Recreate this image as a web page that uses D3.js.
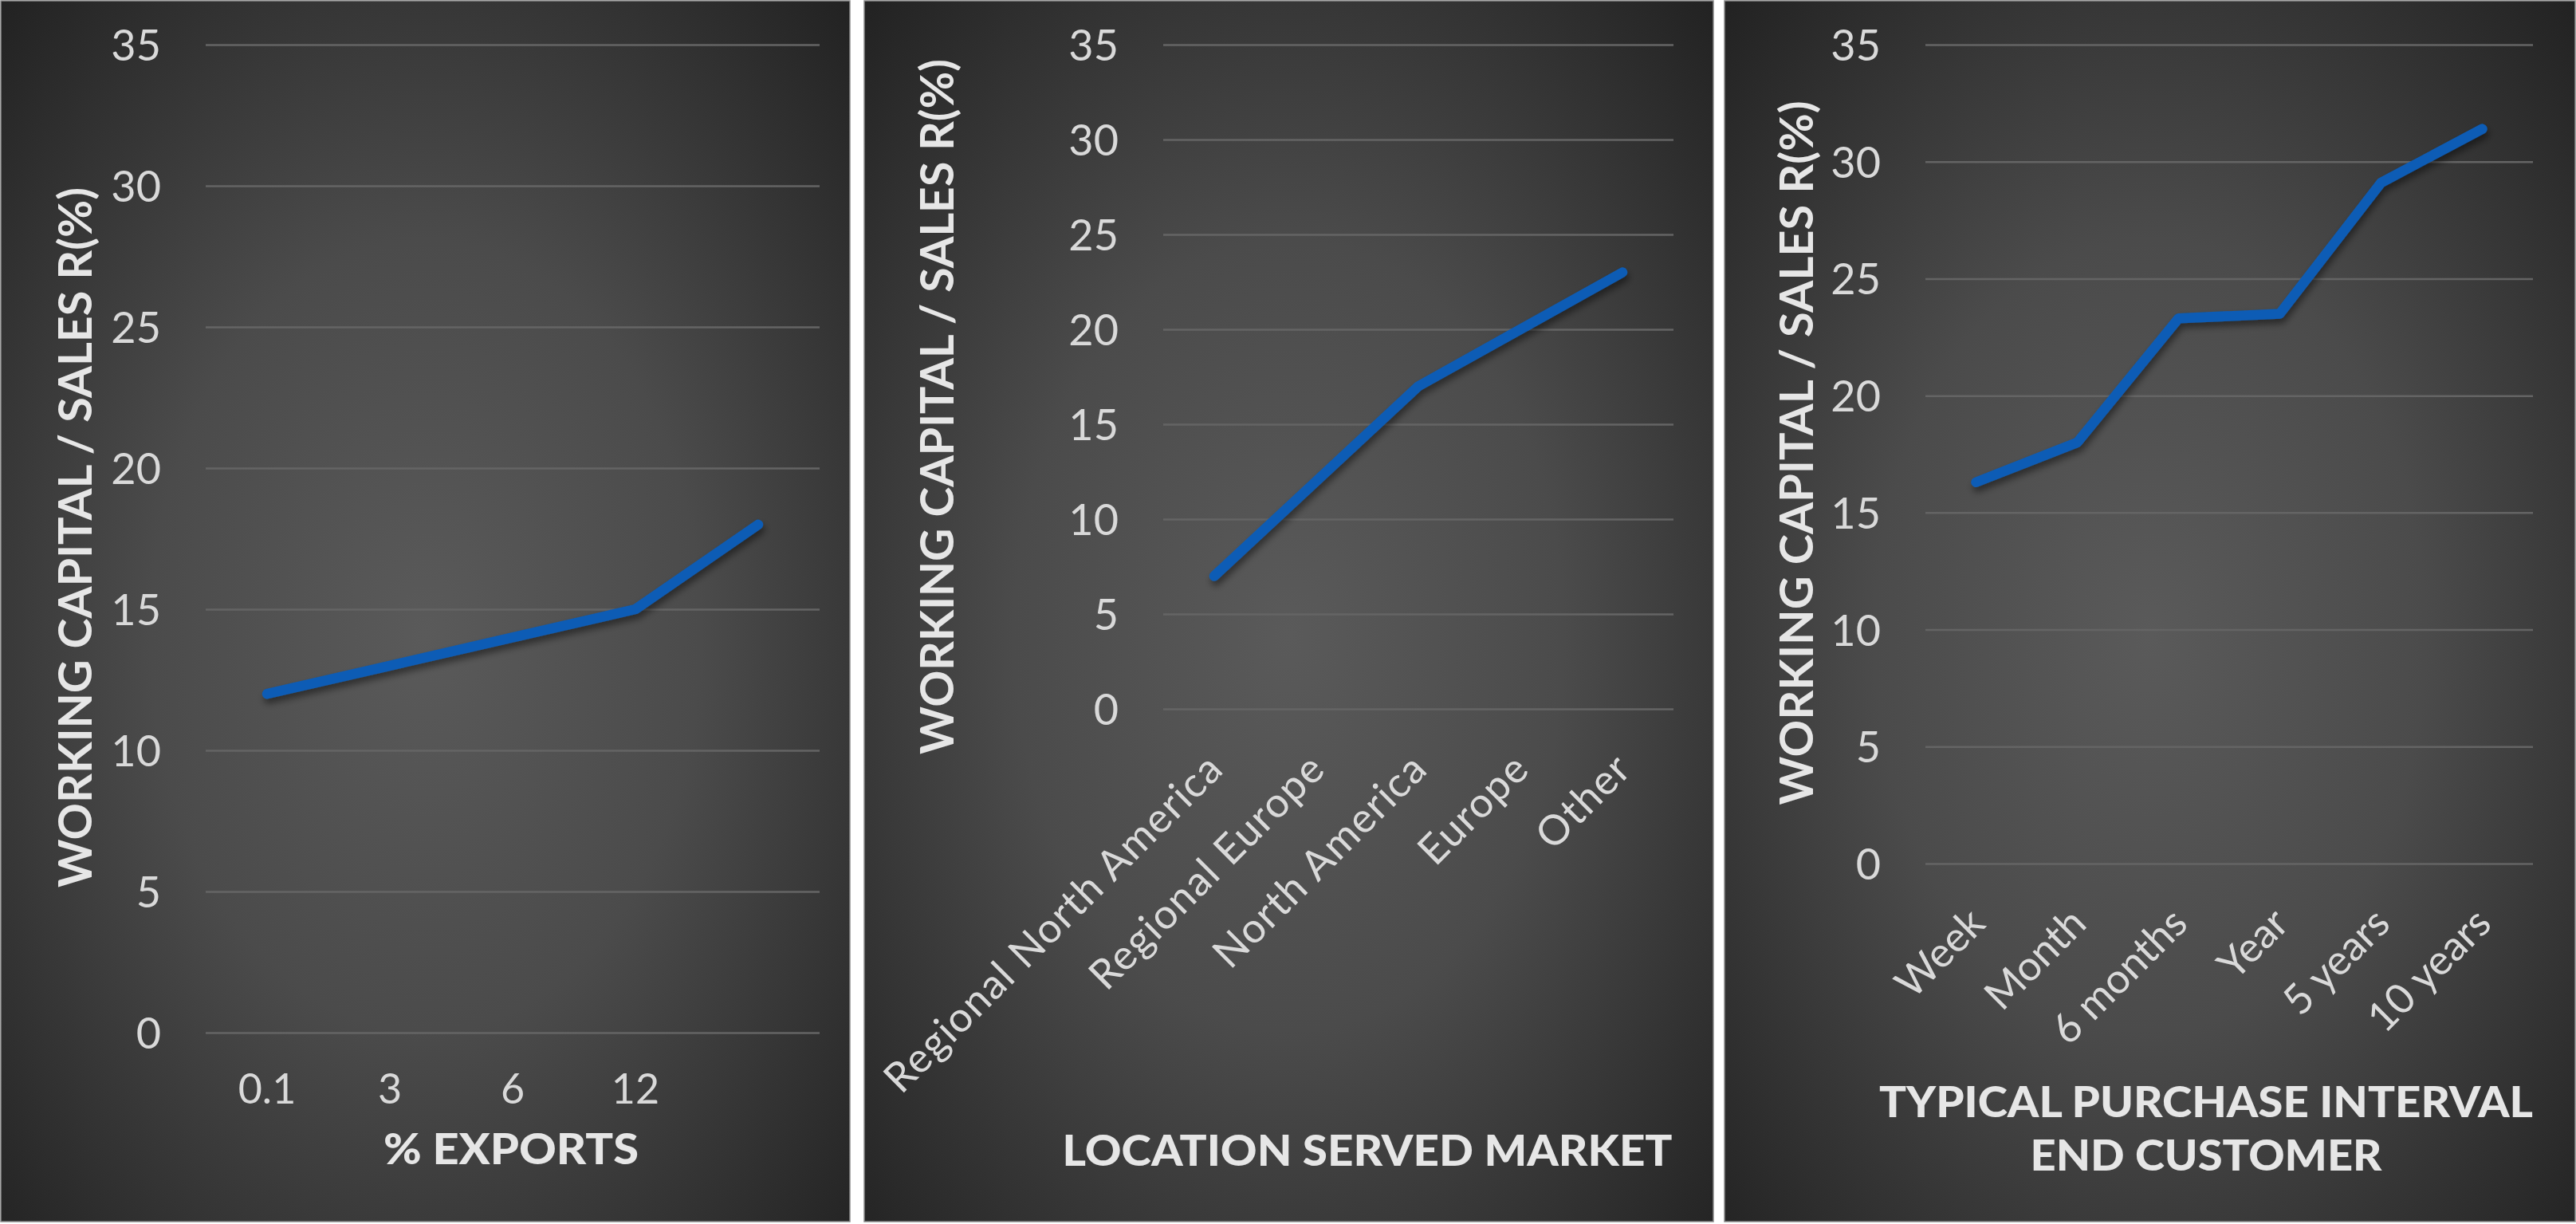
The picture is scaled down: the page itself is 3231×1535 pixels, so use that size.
<!DOCTYPE html>
<html>
<head>
<meta charset="utf-8">
<script src="https://cdn.jsdelivr.net/npm/d3@7"></script>
<style>
  body { margin: 0; background: #ffffff; }
  svg { display: block; }
</style>
</head>
<body>
<div id="chart"></div>
<script>

// chart values
const yTicks = [0, 5, 10, 15, 20, 25, 30, 35];
const yTitle = "WORKING CAPITAL / SALES R(%)";

const exportCats = ["0.1", "3", "6", "12", ""];
const exportVals = [12, 13, 14, 15, 18];

const marketCats = ["Regional North America", "Regional Europe", "North America", "Europe", "Other"];
const marketVals = [7, 12, 17, 20, 23];

const intervalCats = ["Week", "Month", "6 months", "Year", "5 years", "10 years"];
const intervalVals = [16.3, 18, 23.3, 23.5, 29.1, 31.4];

const width = 3231, height = 1535;

const svg = d3.select("#chart")
  .append("svg")
  .attr("width", width)
  .attr("height", height)
  .attr("viewBox", [0, 0, width, height]);

const defs = svg.append("defs");

// radial background, light centre to dark corners
const grad = defs.append("radialGradient")
  .attr("id", "bg")
  .attr("cx", "50%").attr("cy", "52%").attr("r", "72%");
grad.append("stop").attr("offset", "0%").attr("stop-color", "#5a5a5a");
grad.append("stop").attr("offset", "45%").attr("stop-color", "#4b4b4b");
grad.append("stop").attr("offset", "100%").attr("stop-color", "#222222");

// soft shadow under the line
const shadow = defs.append("filter")
  .attr("id", "shadow")
  .attr("x", "-10%").attr("y", "-10%").attr("width", "120%").attr("height", "130%");
shadow.append("feDropShadow")
  .attr("dx", 2).attr("dy", 6).attr("stdDeviation", 4)
  .attr("flood-color", "#000").attr("flood-opacity", 0.45);

const panels = [
  { x0: 1, x1: 1066, plot: [258, 1028, 56, 1295], cats: exportCats, vals: exportVals,
    rotate: false, spacing: 0, yTitleX: 94, yTitleY: 674, yTitleLen: 878,
    xTitle: [{ text: "% EXPORTS", x: 641, y: 1441, len: 320 }] },
  { x0: 1084, x1: 2149, plot: [1459, 2099, 56, 889], cats: marketCats, vals: marketVals,
    rotate: true, spacing: 1.5, yTitleX: 1175, yTitleY: 510, yTitleLen: 872,
    xTitle: [{ text: "LOCATION SERVED MARKET", x: 1715, y: 1443, len: 765 }] },
  { x0: 2163, x1: 3230, plot: [2415, 3177, 56, 1083], cats: intervalCats, vals: intervalVals,
    rotate: true, spacing: 0, yTitleX: 2253, yTitleY: 568, yTitleLen: 883,
    xTitle: [{ text: "TYPICAL PURCHASE INTERVAL", x: 2767, y: 1382, len: 820 },
             { text: "END CUSTOMER", x: 2767, y: 1449, len: 441 }] }
];

panels.forEach((p) => {
  const [left, right, top, bottom] = p.plot;

  // panel background
  svg.append("rect")
    .attr("x", p.x0).attr("y", 1)
    .attr("width", p.x1 - p.x0).attr("height", 1531)
    .attr("fill", "url(#bg)")
    .attr("stroke", "#8a8a8a")
    .attr("stroke-width", 1.5);

  const yScale = d3.scaleLinear()
    .domain([0, 35])
    .range([bottom, top]);

  const xScale = d3.scaleBand()
    .domain(p.cats)
    .range([left, right]);

  // y axis with gridlines
  const yAxis = svg.append("g")
    .attr("transform", `translate(${left}, 0)`)
    .call(d3.axisLeft(yScale).tickValues(yTicks).tickSize(-(right - left)).tickPadding(56));
  yAxis.select(".domain").remove();
  yAxis.selectAll("line")
    .attr("stroke", "#646464")
    .attr("stroke-width", 2.5);
  yAxis.selectAll("text")
    .attr("fill", "#d9d9d9")
    .attr("font-family", "Lato, 'Open Sans', sans-serif")
    .attr("font-size", "54px")
    .attr("dy", "0.36em");

  // x axis labels
  const xAxis = svg.append("g")
    .attr("transform", `translate(0, ${bottom})`)
    .call(d3.axisBottom(xScale).tickSize(0).tickPadding(0));
  xAxis.select(".domain").remove();
  const xText = xAxis.selectAll("text")
    .attr("fill", "#d9d9d9")
    .attr("font-family", "Lato, 'Open Sans', sans-serif")
    .attr("font-size", "52px")
    .attr("letter-spacing", p.spacing);
  if (p.rotate) {
    xText.attr("text-anchor", "end")
      .attr("dy", "0")
      .attr("transform", "translate(14, 78) rotate(-45)");
  } else {
    xText.attr("dy", "0").attr("y", 89);
  }

  // the line
  const line = d3.line()
    .x((d, i) => xScale(p.cats[i]) + xScale.bandwidth() / 2)
    .y((d) => yScale(d));

  svg.append("path")
    .datum(p.vals)
    .attr("d", line)
    .attr("fill", "none")
    .attr("stroke", "#0b5bb5")
    .attr("stroke-width", 12.5)
    .attr("stroke-linejoin", "round")
    .attr("stroke-linecap", "round")
    .attr("filter", "url(#shadow)");

  // y title
  svg.append("text")
    .attr("transform", `translate(${p.yTitleX}, ${p.yTitleY}) rotate(-90)`)
    .attr("text-anchor", "middle")
    .attr("dy", "0.36em")
    .attr("fill", "#e6e6e6")
    .attr("font-family", "Lato, 'Open Sans', sans-serif")
    .attr("font-weight", "bold")
    .attr("font-size", "58px")
    .attr("textLength", p.yTitleLen)
    .attr("lengthAdjust", "spacingAndGlyphs")
    .text(yTitle);

  // x title
  p.xTitle.forEach((t) => {
    svg.append("text")
      .attr("x", t.x).attr("y", t.y)
      .attr("text-anchor", "middle")
      .attr("dy", "0.36em")
      .attr("fill", "#e6e6e6")
      .attr("font-family", "Lato, 'Open Sans', sans-serif")
      .attr("font-weight", "900")
      .attr("font-size", "54px")
      .attr("textLength", t.len)
      .attr("lengthAdjust", "spacingAndGlyphs")
      .text(t.text);
  });
});
</script>
</body>
</html>
